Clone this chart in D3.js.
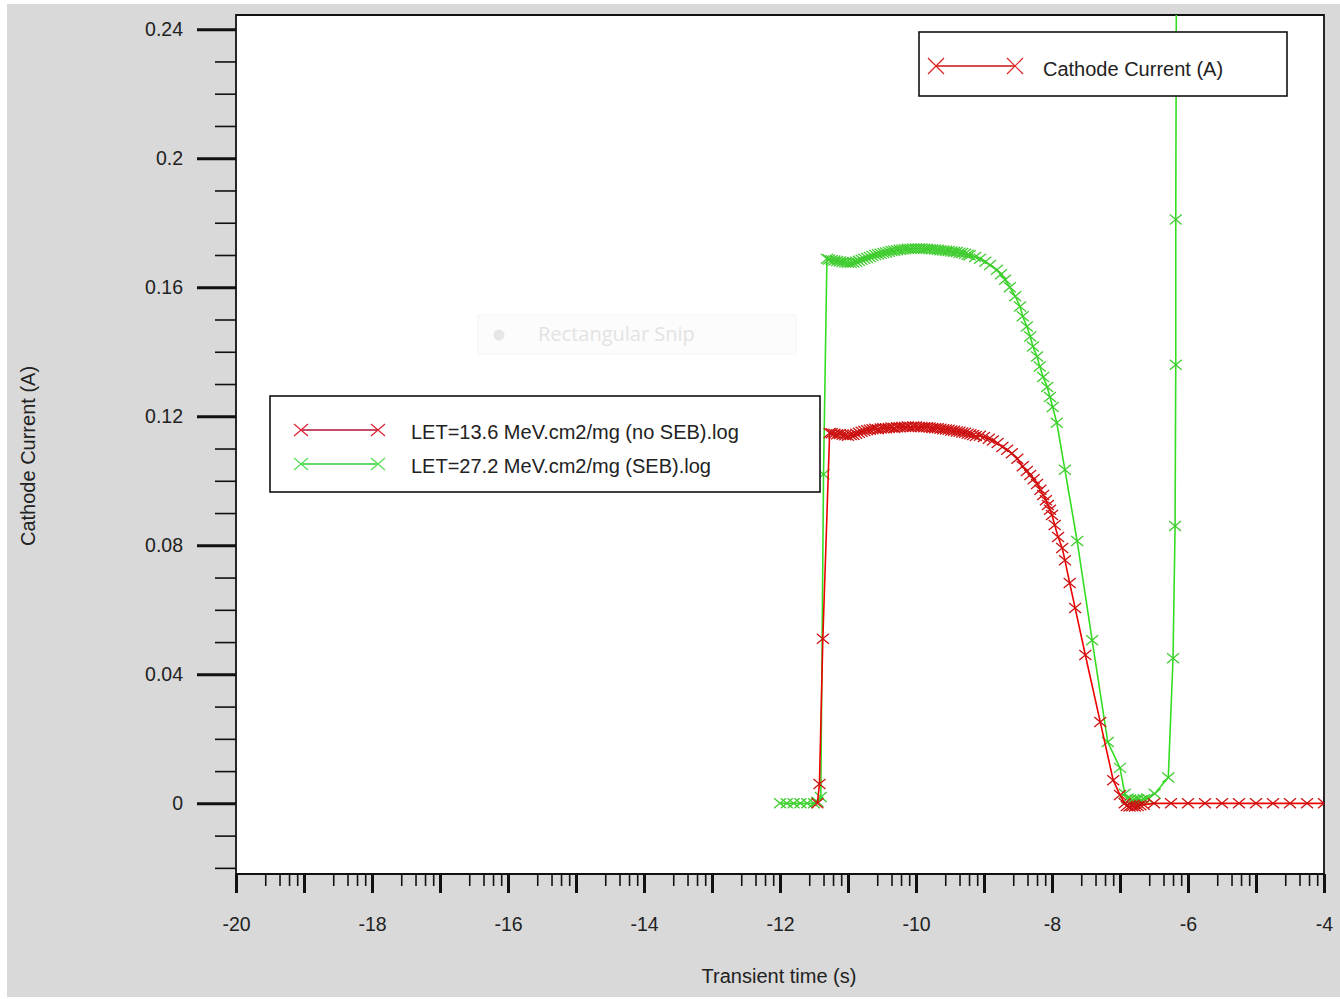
<!DOCTYPE html>
<html>
<head>
<meta charset="utf-8">
<script src="https://cdn.jsdelivr.net/npm/d3@7"></script>
<style>
  html, body { margin: 0; padding: 0; background: #ffffff; }
  svg { display: block; }
  text { font-family: "Liberation Sans", Arial, sans-serif; fill: #222; }
</style>
</head>
<body>
<svg id="chart" width="1340" height="999"></svg>
<script>
// Transient cathode current for two ion LET values
const xTickValues = [-20, -18, -16, -14, -12, -10, -8, -6, -4];
const yTickValues = [0, 0.04, 0.08, 0.12, 0.16, 0.2, 0.24];
const yTickLabels = ["0", "0.04", "0.08", "0.12", "0.16", "0.2", "0.24"];
const xMinorFractions = [0.43, 0.64, 0.78, 0.90];

const seriesNames = ["LET=13.6 MeV.cm2/mg (no SEB).log", "LET=27.2 MeV.cm2/mg (SEB).log"];
const topLegendLabel = "Cathode Current (A)";
const xTitle = "Transient time (s)";
const yTitle = "Cathode Current (A)";

// LET = 13.6 (no SEB): time (s), current (A)
const redTime = [-11.45, -11.42, -11.37, -11.27,
  -11.24, -11.20, -11.16, -11.12, -11.08, -11.04, -11.00, -10.96, -10.92, -10.88,
  -10.84, -10.80, -10.76, -10.72, -10.68, -10.64, -10.60, -10.56, -10.52, -10.48,
  -10.44, -10.40, -10.36, -10.32, -10.28, -10.24, -10.20, -10.16, -10.12, -10.08,
  -10.04, -10.00, -9.96, -9.92, -9.88, -9.84, -9.80, -9.76, -9.72, -9.68,
  -9.64, -9.60, -9.56, -9.52, -9.48, -9.44, -9.40, -9.36, -9.32, -9.28,
  -9.24, -9.20, -9.16, -9.12, -9.06, -9.00,
  -8.93, -8.87, -8.80, -8.73, -8.66, -8.59, -8.51, -8.43, -8.37, -8.32,
  -8.27, -8.22, -8.17, -8.13, -8.09, -8.06, -8.03, -8.00, -7.96, -7.91,
  -7.85, -7.81, -7.74, -7.66, -7.51, -7.29, -7.10, -7.00, -6.93,
  -6.90, -6.86, -6.82, -6.78, -6.74, -6.70, -6.65,
  -6.50, -6.25, -6.00, -5.75, -5.50, -5.25, -5.00, -4.75, -4.50, -4.25, -4.00];
const redCurrent = [0.0, 0.006, 0.051, 0.1148,
  0.1147, 0.1146, 0.1144, 0.1145, 0.1143, 0.1141, 0.1140, 0.1142, 0.1143, 0.1146,
  0.1149, 0.1152, 0.1154, 0.1157, 0.1158, 0.1160, 0.1161, 0.1160, 0.1162, 0.1163,
  0.1163, 0.1164, 0.1165, 0.1164, 0.1166, 0.1166, 0.1167, 0.1167, 0.1168, 0.1167,
  0.1168, 0.1168, 0.1167, 0.1167, 0.1166, 0.1166, 0.1165, 0.1164, 0.1163, 0.1163,
  0.1161, 0.1160, 0.1159, 0.1158, 0.1156, 0.1155, 0.1153, 0.1152, 0.1150, 0.1149,
  0.1146, 0.1144, 0.1142, 0.1139, 0.1140, 0.1136,
  0.1130, 0.1125, 0.1117, 0.1105, 0.1096, 0.1085, 0.1068, 0.1045, 0.1030, 0.1018,
  0.1005, 0.0990, 0.0972, 0.0956, 0.0940, 0.0925, 0.0910, 0.0894, 0.0863, 0.0826,
  0.0792, 0.0754, 0.0683, 0.0606, 0.0460, 0.0252, 0.0072, 0.0026, 0.0000,
  -0.0008, -0.0010, -0.0009, -0.0010, -0.0008, -0.0006, -0.0004,
  0, 0, 0, 0, 0, 0, 0, 0, 0, 0, 0];

// LET = 27.2 (SEB): time (s), current (A)
const greenTime = [-12.0, -11.9, -11.8, -11.7, -11.6, -11.5, -11.45, -11.40, -11.36, -11.31,
  -11.28, -11.24, -11.20, -11.16, -11.12, -11.08, -11.04, -11.00, -10.96, -10.92,
  -10.88, -10.84, -10.80, -10.76, -10.72, -10.68, -10.64, -10.60, -10.56, -10.52,
  -10.48, -10.44, -10.40, -10.36, -10.32, -10.28, -10.24, -10.20, -10.16, -10.12,
  -10.08, -10.04, -10.00, -9.96, -9.92, -9.88, -9.84, -9.80, -9.76, -9.72,
  -9.68, -9.64, -9.60, -9.56, -9.52, -9.48, -9.44, -9.40, -9.36, -9.32,
  -9.28, -9.24, -9.21,
  -9.13, -9.06, -8.98, -8.91, -8.81, -8.75, -8.69, -8.62, -8.54, -8.47,
  -8.43, -8.37, -8.32, -8.28, -8.22, -8.18, -8.13, -8.07, -8.03, -7.99,
  -7.93, -7.81, -7.63, -7.41, -7.18, -7.00, -6.93, -6.89, -6.85, -6.81,
  -6.77, -6.73, -6.69, -6.65, -6.60, -6.49, -6.29, -6.22, -6.19, -6.18, -6.18, -6.17];
const greenCurrent = [0, 0, 0, 0, 0, 0, 0.0005, 0.0020, 0.102, 0.1688,
  0.1686, 0.1684, 0.1683, 0.1681, 0.1680, 0.1678, 0.1677, 0.1676, 0.1676, 0.1677,
  0.1679, 0.1682, 0.1685, 0.1688, 0.1691, 0.1694, 0.1697, 0.1700, 0.1702, 0.1704,
  0.1706, 0.1708, 0.1710, 0.1712, 0.1713, 0.1715, 0.1716, 0.1717, 0.1718, 0.1719,
  0.1719, 0.1720, 0.1720, 0.1720, 0.1720, 0.1719, 0.1719, 0.1718, 0.1718, 0.1717,
  0.1716, 0.1715, 0.1714, 0.1713, 0.1712, 0.1711, 0.1710, 0.1709, 0.1707, 0.1706,
  0.1704, 0.1701, 0.1699,
  0.1694, 0.1688, 0.1679, 0.1669, 0.1654, 0.1640, 0.1623, 0.1600, 0.1572, 0.1540,
  0.1510, 0.1478, 0.1447, 0.1416, 0.1385, 0.1354, 0.1322, 0.1291, 0.1260, 0.1229,
  0.1180, 0.1034, 0.0813, 0.0506, 0.0190, 0.0110, 0.0030, 0.0015, 0.0012, 0.0010,
  0.0011, 0.0012, 0.0010, 0.0013, 0.0015, 0.0030, 0.0080, 0.0450, 0.0860, 0.1360, 0.1810, 0.2600];

const svg = d3.select("#chart");
const W = 1340, H = 999;
const plot = { left: 236, right: 1324, top: 15, bottom: 874 };
const fontSize = "20px";

// Page frame
svg.append("rect").attr("x", 7).attr("y", 4).attr("width", W - 7).attr("height", H - 6)
  .attr("fill", "#d9d9d9");
svg.append("rect").attr("x", plot.left).attr("y", plot.top)
  .attr("width", plot.right - plot.left).attr("height", plot.bottom - plot.top)
  .attr("fill", "#ffffff");

const x = d3.scaleLinear().domain([-20, -4]).range([plot.left, plot.right]);
const y = d3.scaleLinear().domain([-0.0219, 0.2444]).range([plot.bottom, plot.top]);

// Y axis: minor every 0.01, major every 0.04
const yMinor = d3.range(-2, 25).map(k => k / 100).filter(v => !yTickValues.some(t => Math.abs(t - v) < 1e-9));
const yMinorAxis = d3.axisLeft(y).tickValues(yMinor).tickSize(21).tickSizeOuter(0).tickFormat("");
svg.append("g").attr("transform", `translate(${plot.left},0)`).call(yMinorAxis)
  .call(g => g.select(".domain").remove())
  .call(g => g.selectAll("line").attr("stroke", "#111").attr("stroke-width", 1.6));
const yMajorAxis = d3.axisLeft(y).tickValues(yTickValues).tickSize(39).tickSizeOuter(0)
  .tickPadding(14).tickFormat((d, i) => yTickLabels[i]);
svg.append("g").attr("transform", `translate(${plot.left},0)`).call(yMajorAxis)
  .call(g => g.select(".domain").remove())
  .call(g => g.selectAll("line").attr("stroke", "#111").attr("stroke-width", 3))
  .call(g => g.selectAll("text").style("font-size", "19.5px"));

// X axis: major at every integer, labels every 2, uneven minor ticks between
const xMajor = d3.range(-20, -3);
const xMinor = [];
for (let k = -20; k < -4; k++) xMinorFractions.forEach(f => xMinor.push(k + f));
const xMinorAxis = d3.axisBottom(x).tickValues(xMinor).tickSize(12).tickSizeOuter(0).tickFormat("");
svg.append("g").attr("transform", `translate(0,${plot.bottom})`).call(xMinorAxis)
  .call(g => g.select(".domain").remove())
  .call(g => g.selectAll("line").attr("stroke", "#111").attr("stroke-width", 1.6));
const xMajorAxis = d3.axisBottom(x).tickValues(xMajor).tickSize(19).tickSizeOuter(0)
  .tickPadding(24).tickFormat(d => xTickValues.includes(d) ? String(d) : "");
svg.append("g").attr("transform", `translate(0,${plot.bottom})`).call(xMajorAxis)
  .call(g => g.select(".domain").remove())
  .call(g => g.selectAll("line").attr("stroke", "#111").attr("stroke-width", 3))
  .call(g => g.selectAll("text").style("font-size", "19.5px"));

// Plot frame
svg.append("path")
  .attr("d", `M${plot.left},${plot.bottom}V${plot.top}H${plot.right}V${plot.bottom}H${plot.left}`)
  .attr("fill", "none").attr("stroke", "#111").attr("stroke-width", 1.8);

// Axis titles
svg.append("text").attr("x", 779).attr("y", 978).attr("text-anchor", "middle")
  .attr("dominant-baseline", "middle").style("font-size", fontSize).text(xTitle);
svg.append("text").attr("transform", "translate(30,456) rotate(-90)").attr("text-anchor", "middle")
  .attr("dominant-baseline", "middle").style("font-size", fontSize).text(yTitle);

// Faint screen-capture hint left on the canvas
const snip = svg.append("g");
snip.append("rect").attr("x", 478).attr("y", 315).attr("width", 318).attr("height", 39)
  .attr("fill", "#fcfcfc").attr("stroke", "#f4f4f4");
snip.append("circle").attr("cx", 499).attr("cy", 335).attr("r", 5.5).attr("fill", "#e6e6e6");
snip.append("text").attr("x", 538).attr("y", 336).attr("dominant-baseline", "middle")
  .style("font-family", "'Open Sans', sans-serif").style("font-size", "20px")
  .style("fill", "#e3e3e3").text("Rectangular Snip");

// Data
svg.append("clipPath").attr("id", "plotClip").append("rect")
  .attr("x", plot.left).attr("y", plot.top)
  .attr("width", plot.right - plot.left).attr("height", plot.bottom - plot.top);
const dataG = svg.append("g").attr("clip-path", "url(#plotClip)");

const line = d3.line().x(d => x(d[0])).y(d => y(d[1]));
function crossPath(cx, cy, hw, hh) {
  return `M${cx - hw},${cy - hh}L${cx + hw},${cy + hh}M${cx - hw},${cy + hh}L${cx + hw},${cy - hh}`;
}

const series = [
  { t: greenTime, v: greenCurrent, line: "#33dd22", marker: "#3fcc2f" },
  { t: redTime, v: redCurrent, line: "#ee0000", marker: "#cc1111" }
];
series.forEach(s => {
  const pts = s.t.map((t, i) => [t, s.v[i]]);
  dataG.append("path").datum(pts).attr("d", line)
    .attr("fill", "none").attr("stroke", s.line).attr("stroke-width", 1.6);
  dataG.append("g").selectAll("path").data(pts).join("path")
    .attr("d", d => crossPath(x(d[0]), y(d[1]), 6, 5))
    .attr("fill", "none").attr("stroke", s.marker).attr("stroke-width", 1.3);
});

// Top-right legend
const lg1 = svg.append("g");
lg1.append("rect").attr("x", 919).attr("y", 32).attr("width", 368).attr("height", 64)
  .attr("fill", "#ffffff").attr("stroke", "#111").attr("stroke-width", 1.6);
lg1.append("line").attr("x1", 936).attr("x2", 1015).attr("y1", 66).attr("y2", 66)
  .attr("stroke", "#cc1111").attr("stroke-width", 1.5);
[936, 1015].forEach(cx => lg1.append("path").attr("d", crossPath(cx, 66, 8, 8))
  .attr("fill", "none").attr("stroke", "#dd2222").attr("stroke-width", 1.2));
lg1.append("text").attr("x", 1043).attr("y", 71).attr("dominant-baseline", "middle")
  .style("font-size", fontSize).text(topLegendLabel);

// Series legend
const lg2 = svg.append("g");
lg2.append("rect").attr("x", 270).attr("y", 396).attr("width", 550).attr("height", 96)
  .attr("fill", "#ffffff").attr("stroke", "#111").attr("stroke-width", 1.6);
const legendStyles = [
  { y: 430, line: "#b01030", marker: "#dd2233" },
  { y: 464, line: "#33cc33", marker: "#55dd55" }
];
seriesNames.forEach((name, i) => {
  const st = legendStyles[i];
  lg2.append("line").attr("x1", 301).attr("x2", 378).attr("y1", st.y).attr("y2", st.y)
    .attr("stroke", st.line).attr("stroke-width", 1.5);
  [301, 378].forEach(cx => lg2.append("path").attr("d", crossPath(cx, st.y, 7, 6))
    .attr("fill", "none").attr("stroke", st.marker).attr("stroke-width", 1.2));
  lg2.append("text").attr("x", 411).attr("y", st.y + 4).attr("dominant-baseline", "middle")
    .style("font-size", fontSize).text(name);
});
</script>
</body>
</html>
